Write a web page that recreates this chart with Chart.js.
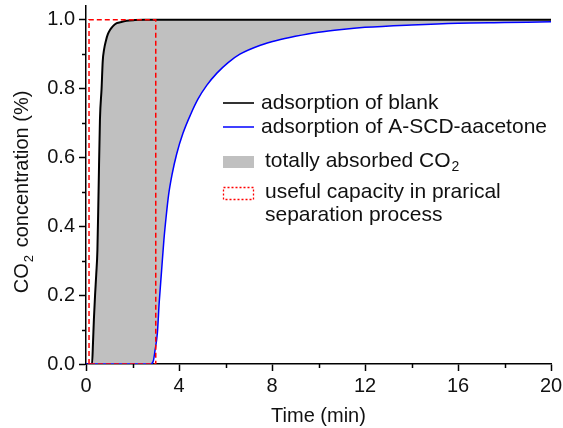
<!DOCTYPE html>
<html><head><meta charset="utf-8">
<script src="https://cdn.jsdelivr.net/npm/chart.js@4.4.1/dist/chart.umd.min.js"></script>
<style>html,body{margin:0;padding:0;background:#fff}</style>
</head><body>
<canvas id="c" width="563" height="428"></canvas>
<script>
// ---- data ----
const blankX = [0, 0.26, 0.3, 0.34, 0.39, 0.44, 0.49, 0.54, 0.6, 0.67, 0.72, 0.78, 0.86, 0.94, 1.03, 1.15, 1.32, 1.55, 1.75, 2.1, 2.5, 20];
const blankY = [0, 0, 0.06, 0.13, 0.2, 0.26, 0.33, 0.5, 0.71, 0.8, 0.88, 0.915, 0.94, 0.958, 0.97, 0.981, 0.99, 0.994, 0.997, 0.999, 1.0, 1.0];
const sampleX = [0, 2.8, 2.9, 2.97, 3.07, 3.15, 3.25, 3.35, 3.45, 3.55, 3.7, 3.9, 4.17, 4.5, 4.82, 5.2, 5.63, 6.1, 6.62, 7.5, 8.2, 9, 10, 11, 12, 14, 16, 18, 20];
const sampleY = [0, 0, 0.01, 0.04, 0.09, 0.18, 0.27, 0.36, 0.43, 0.49, 0.55, 0.61, 0.67, 0.725, 0.77, 0.81, 0.845, 0.875, 0.9, 0.926, 0.94, 0.952, 0.964, 0.972, 0.978, 0.985, 0.99, 0.992, 0.994];
const capacityX = [0.13, 0.13, 3.0, 3.0, 0.13];
const capacityY = [0, 1, 1, 0, 0];
const xMinorTicks = [2, 6, 10, 14, 18];
const yMinorTicks = [0.1, 0.3, 0.5, 0.7, 0.9];
const legendLabels = ['adsorption of blank', 'adsorption of A-SCD-aacetone', 'totally absorbed CO', 'useful capacity in prarical', 'separation process'];
const xTitle = 'Time (min)';

const FONT = "'Liberation Sans', Arial, sans-serif";
const TXT = '#111';
const toPts = (xs, ys) => xs.map((x, i) => ({x: x, y: ys[i]}));

const extras = {
  id: 'extras',
  afterDatasetsDraw(chart) {
    const ctx = chart.ctx;
    const xs = chart.scales.x, ys = chart.scales.y;
    const area = chart.chartArea;
    ctx.save();
    // minor ticks
    ctx.strokeStyle = '#000'; ctx.lineWidth = 1.5;
    xMinorTicks.forEach(v => {
      const px = Math.round(xs.getPixelForValue(v)) + 0.5;
      ctx.beginPath(); ctx.moveTo(px, area.bottom); ctx.lineTo(px, area.bottom + 4); ctx.stroke();
    });
    yMinorTicks.forEach(v => {
      const py = Math.round(ys.getPixelForValue(v)) + 0.5;
      ctx.beginPath(); ctx.moveTo(area.left - 4, py); ctx.lineTo(area.left, py); ctx.stroke();
    });
    // y title with subscript
    ctx.fillStyle = TXT;
    ctx.translate(22, (ys.getPixelForValue(1.0) + ys.getPixelForValue(0)) / 2);
    ctx.rotate(-Math.PI / 2);
    ctx.textBaseline = 'middle';
    const big = '20px ' + FONT, small = '13px ' + FONT;
    ctx.font = big; const w1 = ctx.measureText('CO').width;
    ctx.font = small; const w2 = ctx.measureText('2').width + 3;
    ctx.font = big; const w3 = ctx.measureText(' concentration (%)').width;
    let sx = -(w1 + w2 + w3) / 2;
    ctx.textAlign = 'left';
    ctx.font = big; ctx.fillText('CO', sx, 0);
    ctx.font = small; ctx.fillText('2', sx + w1 + 1, 7);
    ctx.font = big; ctx.fillText(' concentration (%)', sx + w1 + w2, 0);
    ctx.restore();

    // legend
    ctx.save();
    ctx.textBaseline = 'middle'; ctx.textAlign = 'left';
    ctx.fillStyle = TXT;
    const lf = '21px ' + FONT;
    ctx.font = lf;
    ctx.strokeStyle = '#333'; ctx.lineWidth = 2;
    ctx.beginPath(); ctx.moveTo(223, 103); ctx.lineTo(254, 103); ctx.stroke();
    ctx.fillText(legendLabels[0], 261, 103);
    ctx.strokeStyle = '#0000ff'; ctx.lineWidth = 1.5;
    ctx.beginPath(); ctx.moveTo(223, 127); ctx.lineTo(254, 127); ctx.stroke();
    ctx.fillText(legendLabels[1], 261, 127);
    ctx.fillStyle = '#c0c0c0';
    ctx.fillRect(223, 156, 31, 12);
    ctx.fillStyle = TXT;
    ctx.fillText(legendLabels[2], 265, 161);
    const cw = ctx.measureText(legendLabels[2]).width;
    ctx.font = '14px ' + FONT;
    ctx.fillText('2', 265 + cw + 1, 167);
    ctx.font = lf;
    ctx.strokeStyle = '#ff0000'; ctx.lineWidth = 1.3; ctx.setLineDash([2, 2]);
    ctx.strokeRect(223.5, 187.5, 30, 12);
    ctx.setLineDash([]);
    ctx.fillText(legendLabels[3], 265, 192);
    ctx.fillText(legendLabels[4], 265, 215);
    ctx.restore();
  }
};

new Chart(document.getElementById('c'), {
  type: 'line',
  data: {
    datasets: [
      {label: 'blank', data: toPts(blankX, blankY), borderColor: '#000', borderWidth: 2,
       backgroundColor: '#c0c0c0', fill: {target: 1}, pointRadius: 0, cubicInterpolationMode: 'monotone', order: 2},
      {label: 'sample', data: toPts(sampleX, sampleY), borderColor: '#0000ff', borderWidth: 1.5,
       fill: false, pointRadius: 0, cubicInterpolationMode: 'monotone', order: 1},
      {label: 'capacity', data: toPts(capacityX, capacityY), borderColor: '#ff0000', borderWidth: 1.5,
       borderDash: [5, 3], fill: false, pointRadius: 0, tension: 0, order: 0}
    ]
  },
  options: {
    responsive: false, devicePixelRatio: 1, animation: false,
    layout: {padding: {top: 6, right: 12, left: 0, bottom: 0}},
    plugins: {legend: {display: false}, tooltip: {enabled: false}, filler: {drawTime: 'beforeDatasetsDraw'}},
    scales: {
      x: {
        type: 'linear', min: 0, max: 20,
        ticks: {stepSize: 4, color: TXT, font: {family: FONT, size: 20}, padding: 3, maxRotation: 0},
        grid: {drawOnChartArea: false, drawTicks: true, tickLength: 7, tickColor: '#000', tickWidth: 1.5},
        border: {color: '#000', width: 1.5},
        title: {display: true, text: xTitle, color: TXT, font: {family: FONT, size: 20}, padding: {top: 6, bottom: 0}},
        afterFit(s) { s.height = 64; s.paddingLeft = 0; s.paddingRight = 0; }
      },
      y: {
        type: 'linear', min: 0, max: 1.04,
        ticks: {stepSize: 0.2, includeBounds: false, color: TXT, font: {family: FONT, size: 20}, padding: 4,
                callback: v => Number(v).toFixed(1)},
        grid: {drawOnChartArea: false, drawTicks: true, tickLength: 7, tickColor: '#000', tickWidth: 1.5},
        border: {color: '#000', width: 1.5},
        afterFit(s) { s.width = 86; s.paddingTop = 0; s.paddingBottom = 0; }
      }
    }
  },
  plugins: [extras]
});
</script>
</body></html>
